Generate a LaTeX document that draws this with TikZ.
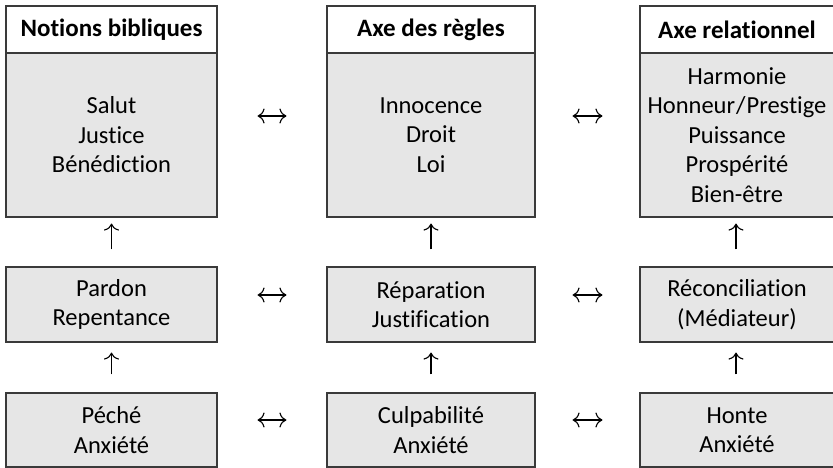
\documentclass[tikz,border=0pt]{standalone}
\usepackage{fontspec}
\setmainfont{Carlito}[Ligatures=NoCommon]
\usetikzlibrary{arrows.meta}
\definecolor{boxfill}{HTML}{E6E6E6}
\definecolor{boxline}{HTML}{3A3A3A}
\begin{document}
\begin{tikzpicture}[x=1pt,y=-1pt,
  box/.style={draw=boxline, line width=1.1pt, fill=boxfill, inner sep=0pt, align=center,
    font=\fontsize{24.5}{29.5}\selectfont},
  head/.style={draw=boxline, line width=1.1pt, fill=white, inner sep=0pt, align=center,
    font=\fontsize{25}{28}\selectfont\bfseries},
  tip/.tip={Computer Modern Rightarrow[length=7pt,width=15pt]},
  link/.style={line width=1.1pt, tip-tip},
  uplink/.style={line width=1.1pt, -tip}
]
\useasboundingbox (0,0) rectangle (833,468);
\begin{scope}
\clip (0,0) rectangle (833,468);
% headers
\node[head, minimum width=211pt, minimum height=47pt] (h1) at (111.5,29.5) {Notions bibliques};
\node[head, minimum width=208pt, minimum height=47pt] (h2) at (431,29.5) {Axe des règles};
\node[head, minimum width=194pt, minimum height=47pt] (h3) at (737,29.5) {Axe relationnel};
% top bodies
\node[box, minimum width=211pt, minimum height=164pt] (b1) at (111.5,135) {Salut\\Justice\\Bénédiction};
\node[box, minimum width=208pt, minimum height=164pt] (b2) at (431,135) {Innocence\\Droit\\Loi};
\node[box, minimum width=194pt, minimum height=164pt] (b3) at (737,135) {Harmonie\\Honneur\kern1pt/\kern1ptPrestige\\Puissance\\Prospérité\\Bien-être};
% middle row
\node[box, minimum width=211pt, minimum height=75pt] (m1) at (111.5,304.5) {Pardon\\Repentance};
\node[box, minimum width=208pt, minimum height=75pt] (m2) at (431,304.5) {Réparation\\Justification};
\node[box, minimum width=194pt, minimum height=75pt] (m3) at (737,304.5) {Réconciliation\\(Médiateur)};
% bottom row
\node[box, minimum width=211pt, minimum height=74pt] (l1) at (111.5,430) {Péché\\Anxiété};
\node[box, minimum width=208pt, minimum height=74pt] (l2) at (431,430) {Culpabilité\\Anxiété};
\node[box, minimum width=194pt, minimum height=74pt] (l3) at (737,430) {Honte\\Anxiété};
\end{scope}
% horizontal links
\draw[link, shorten <=40pt, shorten >=40pt] ([yshift=19pt]b1.east) -- ([yshift=19pt]b2.west);
\draw[link, shorten <=37pt, shorten >=37pt] ([yshift=19pt]b2.east) -- ([yshift=19pt]b3.west);
\draw[link, shorten <=40pt, shorten >=40pt] ([yshift=9.5pt]m1.east) -- ([yshift=9.5pt]m2.west);
\draw[link, shorten <=37pt, shorten >=37pt] ([yshift=9.5pt]m2.east) -- ([yshift=9.5pt]m3.west);
\draw[link, shorten <=40pt, shorten >=40pt] ([yshift=10pt]l1.east) -- ([yshift=10pt]l2.west);
\draw[link, shorten <=37pt, shorten >=37pt] ([yshift=10pt]l2.east) -- ([yshift=10pt]l3.west);
% vertical links
\draw[uplink, shorten <=17pt, shorten >=6pt] (m1.north) -- (b1.south);
\draw[uplink, shorten <=17pt, shorten >=6pt] (m2.north) -- (b2.south);
\draw[uplink, shorten <=17pt, shorten >=6pt] ([xshift=-1pt]m3.north) -- ([xshift=-1pt]b3.south);
\draw[uplink, shorten <=18pt, shorten >=10pt] (l1.north) -- (m1.south);
\draw[uplink, shorten <=18pt, shorten >=10pt] (l2.north) -- (m2.south);
\draw[uplink, shorten <=18pt, shorten >=10pt] ([xshift=-1pt]l3.north) -- ([xshift=-1pt]m3.south);
\end{tikzpicture}
\end{document}
